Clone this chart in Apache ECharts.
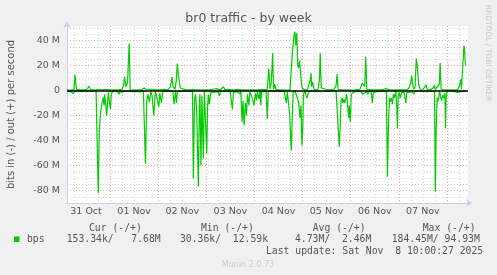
<!DOCTYPE html>
<html>
<head>
<meta charset="utf-8">
<script src="https://cdn.jsdelivr.net/npm/echarts@6/dist/echarts.min.js"></script>
<style>
html,body{margin:0;padding:0;background:#f0f0f0;}
#chart{width:497px;height:275px;}
</style>
</head>
<body>
<div id="chart"></div>
<script>
// time in hours since 31 Oct 00:00, values in Mbit/s
const dayLabels = ['31 Oct', '01 Nov', '02 Nov', '03 Nov', '04 Nov', '05 Nov', '06 Nov', '07 Nov'];
const startHour = 2.5;
const endHour = 202.5;

const outHours = [2.5,4.5,6,6.5,7.2,9,11,12.5,13.5,14.2,16,17.2,17.7,18.5,20,22,23.9,25.9,27.9,29.9,30.7,31.2,31.9,32.7,33.5,34,35.9,37.9,39.9,40.9,41.9,43.9,46.4,48.9,50.9,52.9,54.1,54.9,55.4,56.4,57.0,57.5,58.1,59.0,59.9,61.9,63.9,65.2,66.4,68.8,71.3,73.8,75.3,77.2,78.3,79.3,80.5,81.3,82.8,83.8,86.3,87.8,89.3,92.3,95.3,97.8,99.8,101.3,102.4,103.1,103.8,104.4,105.1,105.5,106.1,106.8,108.7,111.2,113.7,114.3,114.9,115.7,116.2,116.6,117.1,117.6,118.0,118.5,119.2,119.7,120.2,121.2,122.2,123.2,123.8,124.2,124.5,125,125.7,126.7,127.7,128.4,128.8,129.3,130.2,131.7,133.7,135.7,136.7,137.2,137.7,139.7,141.7,143.6,146.1,148.6,149.1,149.8,150.3,151,151.5,152,152.6,154.6,157.1,159.6,161.6,162.1,163.6,166.1,168.6,170.6,172.1,173.1,173.9,174.4,174.9,175.4,176.1,176.7,177.2,177.9,178.6,180.1,181.6,182.1,183.6,185.1,185.6,186.2,186.8,188.2,188.6,189.1,190.1,192.1,194.6,196.5,197.5,198.4,198.9,199.2,199.8,200.5,200.9,201.2,201.5];
const outMbps = [0.5,0.3,1,12.5,1,0.5,0.5,1,3.5,1,0.5,0.5,2,1,0.5,1,0.5,0.5,0.5,1,4,11,3,7,37.5,0.5,0.3,0.5,0.5,2,1,1,0.5,0.5,1,0.5,3,11,3,1,8,21.5,12,2,0.5,0.5,0.5,1,0.5,0.5,0.5,0.5,1,1.5,0.5,1,3,0.5,1,0.5,0.5,1,0.5,0.5,0.5,0.5,1,0.5,1,17.5,1,7,30,1,5,0.5,0.5,0.3,0.5,2,30,44,47,36,46,20,18,24,10,2,0.5,0.5,0.3,5,8,14,3,7,1,0.5,1,8,30,2,0.5,1,0.5,1,4,13,1,0.5,0.5,0.3,0.5,1,3,6,6.5,3,27,1,0.5,0.5,0.5,0.5,1.5,1,0.5,0.5,0.5,0.5,0.5,2,6,12,5,1,3,25.5,20,5,1,1,4.5,1,0.5,2,4,1,1,5,22,1,0.5,0.5,0.5,0.5,1,5,9,1,1,36,30,20,20];

const inHours = [2.5,4.5,5.6,6.5,9,13,17,17.6,18.1,18.6,19.3,20,20.5,21,21.3,22.3,23.1,23.8,24.2,24.6,25.3,26.4,27.7,28.4,28.9,29.9,30.9,33.9,36.4,38.9,40.6,41.1,41.6,42.3,42.9,43.6,44.3,44.9,45.8,46.6,47.4,48.3,48.8,49.6,50.3,50.9,51.9,53.9,55.3,55.9,56.6,57.1,57.6,58.9,61.9,65.1,65.5,66.1,66.6,67.2,68.0,68.5,68.8,69.3,69.8,70.5,71,71.6,72.2,72.6,73,73.5,74.2,74.8,77.8,78.5,79,81.3,82.2,83.8,84.5,85,85.5,86.3,87.8,88.7,89.2,89.8,90.3,90.8,91.5,92,92.5,93.2,93.7,94.5,95.2,95.8,96.5,97,97.5,98.2,98.8,99.2,99.5,100.3,101.8,102.4,102.9,104.8,107.8,110.8,111.4,111.9,112.4,113.1,113.6,114.1,114.4,114.9,115.3,116.3,117.2,118.1,118.7,119.2,119.7,120.1,120.4,121.2,121.7,122.2,122.7,123.2,124.2,126.2,127.1,127.7,128.7,131.2,133.7,136.7,137.5,138.3,138.7,139.2,139.7,140,140.5,141,141.7,142,142.5,143,143.3,143.8,144.3,145.2,145.8,147.6,149.3,149.8,150.2,152,152.5,153,154.2,154.8,155.3,156.1,158.6,161.8,162.3,162.8,163.3,163.6,164.3,164.8,165.3,165.8,166.5,167,167.3,167.7,168.2,168.7,169.4,170,170.7,171.5,172,172.6,174.6,175.5,176.1,178.6,182.1,183.1,185.8,186.2,186.6,187.1,187.5,188,188.3,189.3,190,190.5,191,191.3,191.6,192.1,194.6,197.5,198,198.5,201,201.5];
const inMbps = [0.5,1,2.5,0.5,0.3,0.5,0.5,0.5,82,33,17,9.6,5.6,12,3,20,1.5,11,15,3,0.5,0.5,0.5,3,0.5,1.5,0.5,0.5,1,1,0.5,1,58.5,8,3,9.6,1,4,20,0.5,2,13,2,10,0.5,2,0.5,0.5,0.5,11,0.5,10,0.5,0.5,0.5,0.5,70.5,8,3,17,77,12,3,60,4,54.5,0.5,0.5,50.5,14,3,11,1.5,0.5,1,4.5,1,0.5,1.5,0.5,1,15,1.5,0.5,1,3,0.5,25,8,28,10,20,3,12,1,2,7.5,12,2,8,1,7,0.5,12,1,0.5,0.5,22.5,0.5,0.5,0.5,0.5,1,10,1,2,20,40,48,20,1.5,0.5,1.5,10,22,12,44,31,3,0.5,4,6,3,1,0.5,0.5,2,0.5,1,0.5,0.5,0.5,2,45,31,8,6,10,7,10,9,3,1.5,22,12,25,3,4,1,0.5,1,3,2,1,3,1,1,10,1.5,0.5,0.5,0.5,69,30,6,9,6,11,3,6,0.5,14,30.5,4,1.5,6,1.5,0.5,1.5,10,1.5,0.5,1,3,0.5,0.5,1,0.5,0.5,81,33,6,9,5,0.5,8,3.5,6,2,30,6,0.5,0.5,1.5,0.5,1,0.5,0.5];

const statHeaders = ['Cur (-/+)', 'Min (-/+)', 'Avg (-/+)', 'Max (-/+)'];
const statValues = ['153.34k/   7.68M', '30.36k/  12.59k', '4.73M/  2.46M', '184.45M/ 94.93M'];
const seriesName = 'bps';
const lastUpdate = 'Last update: Sat Nov  8 10:00:27 2025';

const GREEN = '#00cc00';
const TXT = '#555555';
const MONO = '"DejaVu Sans Mono", monospace';
const SANS = '"DejaVu Sans", sans-serif';

const cats = [];
for (let k = 0; k <= (endHour - startHour) * 2; k++) cats.push(String(startHour + 0.5 * k));
const hourOf = (i) => startHour + 0.5 * i;

const headerX = [89, 201, 312.7, 422.7];
const valueX = [66.7, 180, 295, 391.7];

const graphics = [
  {type:'text', x:248.5, y:19, style:{text:'br0 traffic - by week', font:'12.5px ' + SANS, fill:TXT, align:'center', verticalAlign:'middle'}},
  {type:'text', x:487.5, y:53, rotation:-Math.PI/2, style:{text:'RRDTOOL / TOBI OETIKER', font:'7.5px ' + SANS, fill:'#c8c8c8', align:'center', verticalAlign:'middle'}},
  {type:'rect', shape:{x:14, y:236.5, width:5.5, height:5.5}, style:{fill:GREEN}},
  {type:'text', x:27, y:239.5, style:{text:seriesName, font:'9.75px ' + MONO, fill:TXT, verticalAlign:'middle'}},
  {type:'text', x:266, y:251, style:{text:lastUpdate, font:'9.75px ' + MONO, fill:TXT, verticalAlign:'middle'}},
  {type:'text', x:248, y:264.5, style:{text:'Munin 2.0.73', font:'8px ' + SANS, fill:'#cccccc', align:'center', verticalAlign:'middle'}}
];
statHeaders.forEach((h, i) => graphics.push({type:'text', x:headerX[i], y:228, style:{text:h, font:'9.75px ' + MONO, fill:TXT, verticalAlign:'middle'}}));
statValues.forEach((v, i) => graphics.push({type:'text', x:valueX[i], y:239.5, style:{text:v, font:'9.75px ' + MONO, fill:TXT, verticalAlign:'middle'}}));

const chart = echarts.init(document.getElementById('chart'), null, {renderer:'canvas'});
chart.setOption({
  animation:false,
  backgroundColor:'#f0f0f0',
  grid:{left:67, top:26, width:401, height:177, show:true, backgroundColor:'#ffffff', borderWidth:0, containLabel:false, outerBoundsMode:'none'},
  xAxis:[
    {type:'value', min:startHour, max:endHour, show:false},
    {type:'category', data:cats, boundaryGap:false, position:'bottom',
      axisLine:{show:true, onZero:false, lineStyle:{color:'#cdcdee', width:1}, symbol:['none','arrow'], symbolSize:[6,6], symbolOffset:[0,4]},
      axisTick:{show:false},
      axisLabel:{interval:(i) => hourOf(i) % 24 === 12, formatter:(v) => { const t = +v; return t % 24 === 12 ? dayLabels[Math.floor(t / 24)] : ''; }, color:TXT, fontSize:9.5, fontFamily:SANS, margin:4},
      splitLine:{show:true, interval:(i) => hourOf(i) % 6 === 0 && hourOf(i) % 24 !== 0, lineStyle:{color:'#d2d2d2', width:1, type:[1,2]}}},
    {type:'category', data:cats, boundaryGap:false, position:'bottom',
      axisLine:{show:false, onZero:false}, axisTick:{show:false}, axisLabel:{show:false},
      splitLine:{show:true, interval:(i) => hourOf(i) % 24 === 0, lineStyle:{color:'#e6a3a3', width:1, type:[1,2]}}}
  ],
  yAxis:{type:'value', min:-90e6, max:51.6e6, interval:5e6,
    name:'bits in (-) / out (+) per second', nameLocation:'middle', nameGap:51,
    nameTextStyle:{color:TXT, fontSize:10, fontFamily:SANS},
    axisLine:{show:true, onZero:false, lineStyle:{color:'#cdcdee', width:1}, symbol:['none','arrow'], symbolSize:[6,6], symbolOffset:[0,4]},
    axisTick:{show:false},
    axisLabel:{color:TXT, fontSize:9.5, fontFamily:SANS, margin:7, formatter:(v) => {
      if (Math.abs(v % 20e6) > 1) return '';
      if (v === 0) return '0';
      return Math.round(v / 1e6) + ' M';
    }},
    splitLine:{show:true, showMaxLine:false, lineStyle:{color:['#d2d2d2','#d2d2d2','#e6a3a3','#d2d2d2'], width:1, type:[1,2]}}
  },
  graphic:graphics,
  series:[
    {type:'line', name:'in', xAxisIndex:0, symbol:'none', data:inHours.map((h, i) => [h, -inMbps[i] * 1e6]), lineStyle:{color:GREEN, width:1.2}, z:3},
    {type:'line', name:'out', xAxisIndex:0, symbol:'none', data:outHours.map((h, i) => [h, outMbps[i] * 1e6]), lineStyle:{color:GREEN, width:1.2}, z:3,
      markLine:{silent:true, symbol:['none','none'], label:{show:false}, lineStyle:{color:'#000000', width:1.5, type:'solid'}, data:[{yAxis:0}]}}
  ]
});
</script>
</body>
</html>
